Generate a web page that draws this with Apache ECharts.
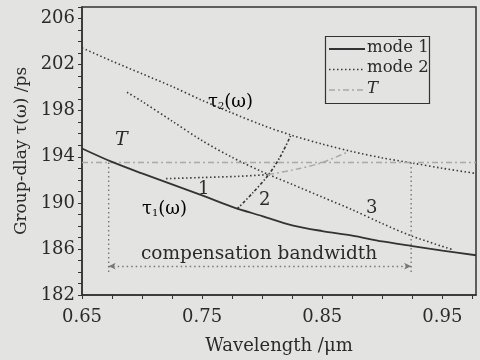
<!DOCTYPE html>
<html><head><meta charset="utf-8">
<script src="https://cdn.jsdelivr.net/npm/echarts@6/dist/echarts.min.js"></script>
<style>html,body{margin:0;padding:0;background:#e3e3e1}#c{width:480px;height:360px}</style>
</head><body><div id="c"></div>
<script>
// wavelength (um) / group delay (ps)
const mode1X = [0.65, 0.675, 0.70, 0.725, 0.75, 0.775, 0.80, 0.825, 0.85, 0.875, 0.90, 0.925, 0.95, 0.978];
const mode1Y = [194.72, 193.55, 192.55, 191.6, 190.65, 189.65, 188.85, 188.05, 187.55, 187.15, 186.65, 186.25, 185.85, 185.45];

const tau2X = [0.65, 0.675, 0.70, 0.725, 0.75, 0.775, 0.80, 0.825, 0.85, 0.875, 0.90, 0.925, 0.95, 0.978];
const tau2Y = [203.45, 202.3, 201.2, 200.1, 198.9, 197.8, 196.75, 195.85, 195.1, 194.45, 193.9, 193.45, 193.0, 192.55];

const curve3X = [0.6875, 0.70, 0.725, 0.75, 0.775, 0.80, 0.825, 0.85, 0.875, 0.90, 0.925, 0.958];
const curve3Y = [199.6, 198.8, 197.1, 195.4, 193.95, 192.7, 191.6, 190.5, 189.4, 188.2, 187.1, 185.95];

const curve2X = [0.779, 0.792, 0.805, 0.815, 0.8236];
const curve2Y = [189.45, 190.85, 192.4, 194.0, 195.8];

const curve1X = [0.72, 0.75, 0.78, 0.805];
const curve1Y = [192.1, 192.2, 192.3, 192.45];

const curve1bX = [0.805, 0.83, 0.85, 0.872];
const curve1bY = [192.45, 192.95, 193.5, 194.45];

const tLineX = [0.65, 0.978];
const tLineY = [193.5, 193.5];

const bandLeftX = [0.6722, 0.6722];
const bandRightX = [0.924, 0.924];
const bandVertY = [193.5, 183.9];
const bandArrowY = 184.5;

const xTickLabels = ['0.65', '0.75', '0.85', '0.95'];
const yTickLabels = ['182', '186', '190', '194', '198', '202', '206'];
const legendNames = ['mode 1', 'mode 2', 'T'];

const zip = (xs, ys) => xs.map((x, i) => [x, ys[i]]);
const SERIF = '"DejaVu Serif", "Liberation Serif", serif';
const INK = '#2a2a2a';
const BG = '#e3e3e1';

const chart = echarts.init(document.getElementById('c'));

const solid = { color: '#333', width: 1.8 };
const dotted = { color: '#3a3a3a', width: 1.6, type: [1.5, 2.5] };
const dashDot = { color: '#333', width: 1.6, type: [3, 2, 1.5, 2] };
const tStyle = { color: '#a9a9a9', width: 1.5, type: [6, 3, 2, 3] };
const bandStyle = { color: '#777', width: 1.4, type: [1.5, 3] };

const legendStyles = [solid, dotted, tStyle];
const legendGraphic = [
  { type: 'rect', shape: { x: 325.5, y: 36.5, width: 104, height: 67 }, style: { fill: BG, stroke: '#333', lineWidth: 1.2 }, z: 50 }
];
legendNames.forEach((n, i) => {
  const y = 49 + i * 20.5;
  const ls = legendStyles[i];
  legendGraphic.push({ type: 'line', shape: { x1: 329, y1: y, x2: 365, y2: y }, style: { stroke: ls.color, lineWidth: ls.width, lineDash: ls.type || null }, z: 51 });
  legendGraphic.push({ type: 'text', left: 367, top: y - 10, style: { text: n, font: (n === 'T' ? 'italic ' : '') + '16.5px ' + SERIF, fill: INK }, z: 51 });
});

chart.setOption({
  backgroundColor: BG,
  animation: false,
  grid: { left: 82, right: 4, top: 7, bottom: 63, show: true, borderColor: '#333', borderWidth: 1.5, backgroundColor: 'transparent' },
  xAxis: {
    type: 'value', min: 0.65, max: 0.978, interval: 0.025,
    name: 'Wavelength /\u03bcm', nameLocation: 'middle', nameGap: 42,
    nameTextStyle: { fontFamily: SERIF, fontSize: 18, color: INK },
    axisLine: { show: true, lineStyle: { color: '#333', width: 1.5 } },
    axisTick: { show: true, length: 4, lineStyle: { color: '#333' } },
    axisLabel: {
      fontFamily: SERIF, fontSize: 18, color: INK, margin: 13, interval: 0, showMaxLabel: false,
      formatter: v => { const s = v.toFixed(2); return xTickLabels.includes(s) ? s : ''; }
    },
    splitLine: { show: false }
  },
  yAxis: {
    type: 'value', min: 182, max: 207, interval: 1,
    name: 'Group-dlay \u03c4(\u03c9) /ps', nameLocation: 'middle', nameGap: 49,
    nameTextStyle: { fontFamily: SERIF, fontSize: 17, color: INK },
    axisLine: { show: true, lineStyle: { color: '#333', width: 1.5 } },
    axisTick: { show: true, length: 4, lineStyle: { color: '#333' } },
    axisLabel: {
      fontFamily: SERIF, fontSize: 18, color: INK, margin: 7, interval: 0,
      formatter: v => { const s = String(Math.round(v)); return yTickLabels.includes(s) ? s : ''; }
    },
    splitLine: { show: false }
  },
  series: [
    { name: 'mode 1', type: 'line', data: zip(mode1X, mode1Y), symbol: 'none', smooth: 0.3, lineStyle: solid, z: 5 },
    { name: 'mode 2', type: 'line', data: zip(tau2X, tau2Y), symbol: 'none', smooth: 0.3, lineStyle: dotted },
    { name: 'mode 2', type: 'line', data: zip(curve3X, curve3Y), symbol: 'none', smooth: 0.3, lineStyle: dotted },
    { name: 'mode 2', type: 'line', data: zip(curve1X, curve1Y), symbol: 'none', smooth: 0.3, lineStyle: dotted },
    { name: 'mode 2', type: 'line', data: zip(curve2X, curve2Y), symbol: 'none', smooth: 0.3, lineStyle: dashDot },
    { name: 'T', type: 'line', data: zip(tLineX, tLineY), symbol: 'none', lineStyle: tStyle },
    { name: 'T', type: 'line', data: zip(curve1bX, curve1bY), symbol: 'none', smooth: 0.3, lineStyle: tStyle },
    { name: 'band', type: 'line', data: zip(bandLeftX, bandVertY), symbol: 'none', lineStyle: bandStyle },
    { name: 'band', type: 'line', data: zip(bandRightX, bandVertY), symbol: 'none', lineStyle: bandStyle,
      markLine: {
        silent: true, symbol: ['arrow', 'arrow'], symbolSize: [5, 7], label: { show: false },
        lineStyle: bandStyle,
        data: [[{ coord: [bandLeftX[0], bandArrowY] }, { coord: [bandRightX[0], bandArrowY] }]]
      } }
  ],
  graphic: legendGraphic.concat([
    { type: 'text', left: 115, top: 131, style: { text: 'T', font: 'italic 19px ' + SERIF, fill: INK } },
    { type: 'text', left: 208, top: 93, style: { text: '{a|\u03c4}{s|2}{a|(\u03c9)}', rich: { a: { fontFamily: SERIF, fontSize: 18, color: INK }, s: { fontFamily: SERIF, fontSize: 10, color: INK, padding: [9, 0, 0, 0] } } } },
    { type: 'text', left: 142, top: 200, style: { text: '{a|\u03c4}{s|1}{a|(\u03c9)}', rich: { a: { fontFamily: SERIF, fontSize: 18, color: INK }, s: { fontFamily: SERIF, fontSize: 10, color: INK, padding: [9, 0, 0, 0] } } } },
    { type: 'text', left: 198, top: 180, style: { text: '1', font: '18px ' + SERIF, fill: INK } },
    { type: 'text', left: 259, top: 191, style: { text: '2', font: '18px ' + SERIF, fill: INK } },
    { type: 'text', left: 366, top: 199, style: { text: '3', font: '18px ' + SERIF, fill: INK } },
    { type: 'text', left: 141, top: 245, style: { text: 'compensation bandwidth', font: '18.5px ' + SERIF, fill: INK } }
  ])
});
</script>
</body></html>
